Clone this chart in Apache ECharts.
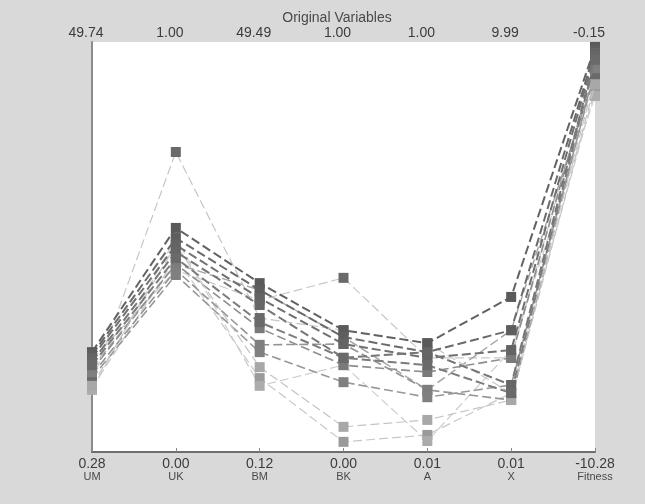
<!DOCTYPE html>
<html>
<head>
<meta charset="utf-8">
<script src="https://cdn.jsdelivr.net/npm/echarts@6/dist/echarts.min.js"></script>
<style>
html,body{margin:0;padding:0;background:#d9d9d9;}
#chart{width:645px;height:504px;}
</style>
</head>
<body>
<div id="chart"></div>
<script>
// Variables (parallel axes), left to right
const variables = ['UM', 'UK', 'BM', 'BK', 'A', 'X', 'Fitness'];
// Axis range labels: bottom = minimum, top = maximum
const minLabels = ['0.28', '0.00', '0.12', '0.00', '0.01', '0.01', '-10.28'];
const maxLabels = ['49.74', '1.00', '49.49', '1.00', '1.00', '9.99', '-0.15'];

// Each run: position of the value on each axis, scaled 0 (min) .. 1 (max)
const run01 = [0.246, 0.552, 0.416, 0.300, 0.268, 0.382, 0.998];
const run02 = [0.239, 0.527, 0.399, 0.283, 0.246, 0.300, 0.990];
const run03 = [0.232, 0.510, 0.379, 0.266, 0.232, 0.251, 0.983];
const run04 = [0.222, 0.493, 0.362, 0.232, 0.246, 0.165, 0.975];
const run05 = [0.214, 0.478, 0.320, 0.232, 0.214, 0.145, 0.966];
const run06 = [0.202, 0.463, 0.305, 0.214, 0.197, 0.232, 0.956];
const run07 = [0.190, 0.448, 0.264, 0.266, 0.153, 0.128, 0.946];
const run08 = [0.182, 0.436, 0.246, 0.172, 0.135, 0.165, 0.936];
const run09 = [0.172, 0.739, 0.330, 0.300, 0.268, 0.145, 0.921];
const run10 = [0.163, 0.510, 0.209, 0.062, 0.079, 0.128, 0.906];
const run11 = [0.158, 0.478, 0.182, 0.025, 0.042, 0.145, 0.892];
const run12 = [0.153, 0.527, 0.163, 0.214, 0.027, 0.251, 0.877];
const run13 = [0.227, 0.448, 0.374, 0.429, 0.232, 0.232, 0.961];
const run14 = [0.207, 0.463, 0.399, 0.283, 0.153, 0.300, 0.929];

const runs = [run01, run02, run03, run04, run05, run06, run07, run08, run09, run10, run11, run12, run13, run14];
// [line colour, square colour, line width]
const runStyles = [
  ['#626262', '#5a5a5a', 2],
  ['#6a6a6a', '#5e5e5e', 2],
  ['#707070', '#646464', 2],
  ['#767676', '#666666', 2],
  ['#7c7c7c', '#6a6a6a', 2],
  ['#8e8e8e', '#7a7a7a', 1.6],
  ['#949494', '#7e7e7e', 1.6],
  ['#989898', '#808080', 1.6],
  ['#c6c6c6', '#6a6a6a', 1.2],
  ['#c4c4c4', '#a8a8a8', 1.2],
  ['#c8c8c8', '#9a9a9a', 1.2],
  ['#cccccc', '#acacac', 1.2],
  ['#c8c8c8', '#6a6a6a', 1.2],
  ['#a2a2a2', '#8a8a8a', 1.4]
];

const chart = echarts.init(document.getElementById('chart'), null, {renderer: 'canvas'});

const series = runs.map((r, i) => ({
  type: 'line',
  data: r,
  symbol: 'rect',
  symbolSize: 10,
  showSymbol: true,
  animation: false,
  lineStyle: {color: runStyles[i][0], width: runStyles[i][2], type: [9, 4]},
  itemStyle: {color: runStyles[i][1], borderWidth: 0},
  z: 10 - Math.floor(i / 5)
}));

chart.setOption({
  backgroundColor: '#d9d9d9',
  animation: false,
  textStyle: {fontFamily: 'Liberation Sans, Arial, sans-serif'},
  title: {
    text: 'Original Variables',
    left: 332,
    top: 6,
    textAlign: 'center',
    textStyle: {fontSize: 14, fontWeight: 'normal', color: '#4a4a4a', fontFamily: 'Liberation Sans, Arial, sans-serif'}
  },
  grid: {
    left: 92, right: 50, top: 42, bottom: 52,
    show: true, backgroundColor: '#ffffff', borderWidth: 0
  },
  xAxis: [
    {
      type: 'category',
      data: variables,
      boundaryGap: false,
      position: 'bottom',
      axisLine: {show: true, lineStyle: {color: '#6e6e6e', width: 2}},
      axisTick: {show: true, inside: true, length: 4, lineStyle: {color: '#888'}},
      splitLine: {show: false},
      axisLabel: {
        margin: 5,
        interval: 0,
        formatter: (v, i) => '{v|' + minLabels[i] + '}\n{n|' + v + '}',
        rich: {
          v: {fontSize: 14, color: '#3c3c3c', lineHeight: 14, fontFamily: 'Liberation Sans, Arial, sans-serif'},
          n: {fontSize: 11, color: '#4a4a4a', lineHeight: 11, fontFamily: 'Liberation Sans, Arial, sans-serif'}
        }
      }
    },
    {
      type: 'category',
      data: variables,
      boundaryGap: false,
      position: 'top',
      axisLine: {show: false},
      axisTick: {show: false},
      axisLabel: {
        margin: 2,
        interval: 0,
        padding: [0, 12, 0, 0],
        fontSize: 14,
        color: '#3c3c3c',
        formatter: (v, i) => maxLabels[i]
      }
    }
  ],
  yAxis: {
    type: 'value',
    min: 0,
    max: 1.01,
    axisLine: {show: true, lineStyle: {color: '#8a8a8a', width: 2}},
    axisTick: {show: false},
    axisLabel: {show: false},
    splitLine: {show: false}
  },
  series: series
});
</script>
</body>
</html>
